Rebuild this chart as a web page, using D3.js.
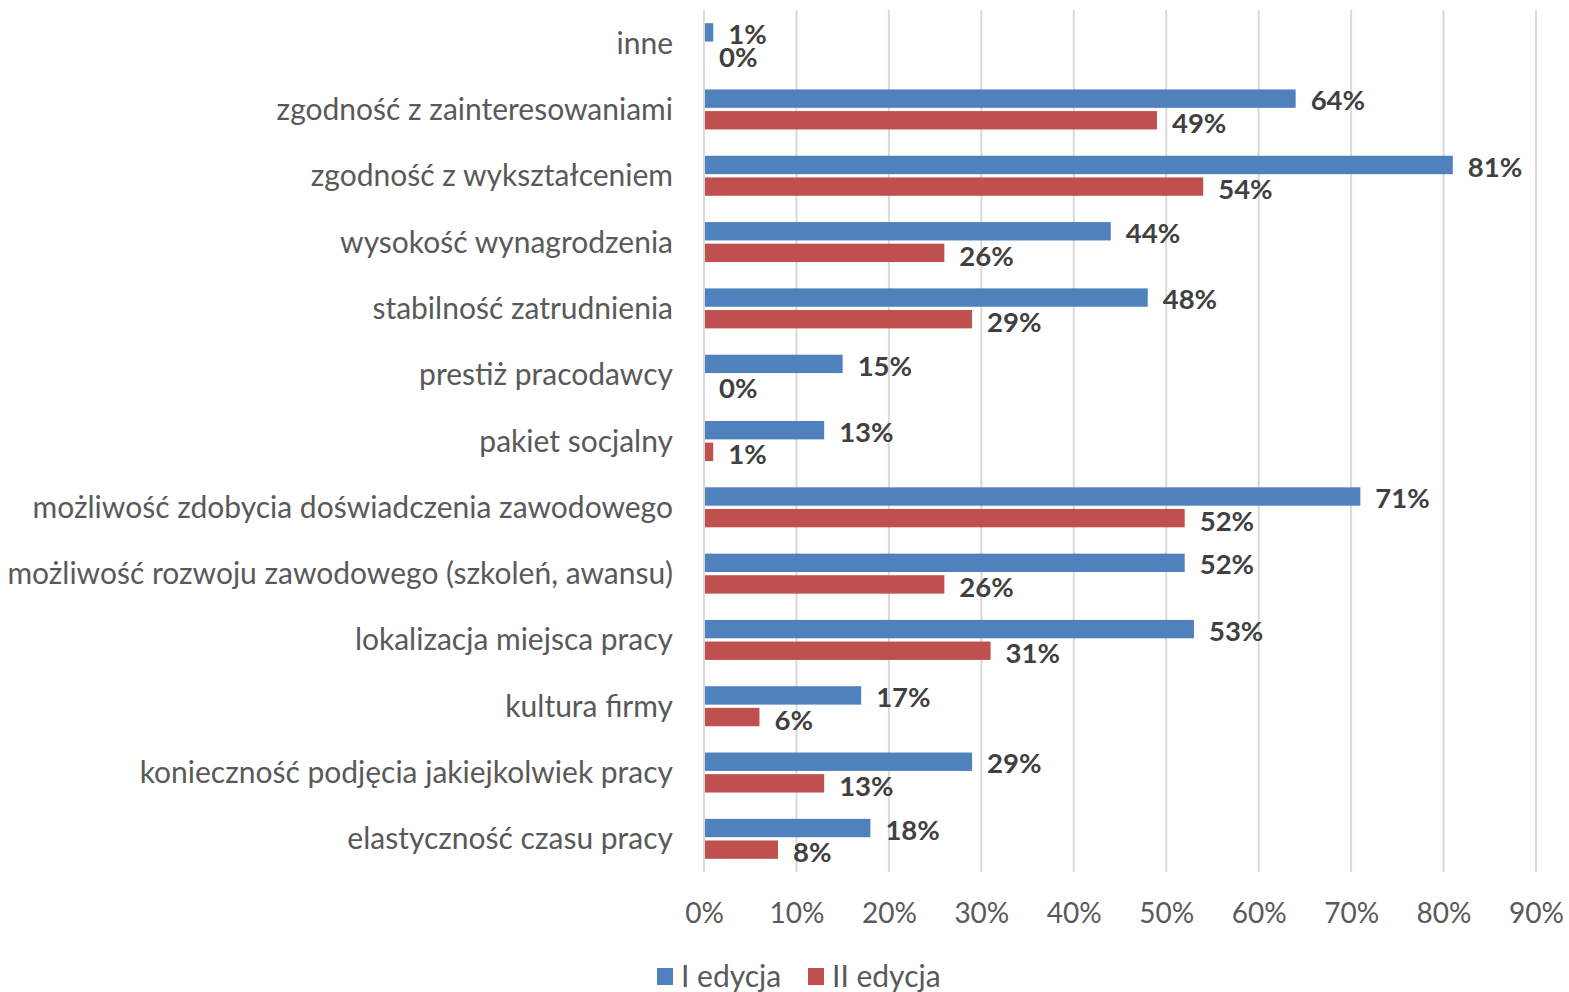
<!DOCTYPE html>
<html><head><meta charset="utf-8">
<script src="https://cdn.jsdelivr.net/npm/d3@7"></script>
<style>body{margin:0;background:#fff}svg{display:block}</style>
</head><body>
<svg id="c" width="1569" height="992"></svg>
<script>
const categories = ["inne","zgodność z zainteresowaniami","zgodność z wykształceniem","wysokość wynagrodzenia","stabilność zatrudnienia","prestiż pracodawcy","pakiet socjalny","możliwość zdobycia doświadczenia zawodowego","możliwość rozwoju zawodowego (szkoleń, awansu)","lokalizacja miejsca pracy","kultura firmy","konieczność podjęcia jakiejkolwiek pracy","elastyczność czasu pracy"];
const edycja1 = [1,64,81,44,48,15,13,71,52,53,17,29,18];
const edycja2 = [0,49,54,26,29,0,1,52,26,31,6,13,8];
const seriesNames = ["I edycja","II edycja"];
const colors = ["#4f81bd","#c0504d"];
const tickValues = [0,10,20,30,40,50,60,70,80,90];

const svg = d3.select("#c");
const font = "Lato, 'Open Sans', sans-serif";
const x = d3.scaleLinear().domain([0,90]).range([704,1536]);
const y = d3.scaleBand().domain(categories).range([10,872]);
const sub = d3.scaleBand().domain([0,1]).range([-20,20]).paddingInner(0.15);

// gridlines
svg.append("g").selectAll("line").data(tickValues).join("line")
  .attr("x1",d=>x(d)).attr("x2",d=>x(d)).attr("y1",10).attr("y2",872)
  .attr("stroke","#d9d9d9").attr("stroke-width",2);

// axis
const axis = d3.axisBottom(x).tickValues(tickValues).tickFormat(d=>d+"%").tickSize(0).tickPadding(0);
const ag = svg.append("g").attr("transform","translate(0,923)").call(axis);
ag.select(".domain").remove();
ag.selectAll("text").attr("font-family",font).attr("font-size",28).attr("fill","#595959").attr("dy","0");

// category labels
svg.append("g").selectAll("text").data(categories).join("text")
  .attr("x",673).attr("y",d=>y(d)+y.bandwidth()/2).attr("dy","0.35em")
  .attr("text-anchor","end").attr("font-family",font).attr("font-size",30).attr("fill","#595959")
  .text(d=>d);

const series = [edycja1, edycja2];
series.forEach((vals,si)=>{
  const g = svg.append("g");
  g.selectAll("rect").data(vals).join("rect")
    .attr("x",x(0)+1).attr("y",(d,i)=>y(categories[i])+y.bandwidth()/2+sub(si))
    .attr("width",d=>Math.max(0,x(d)-x(0)-1)).attr("height",sub.bandwidth())
    .attr("fill",colors[si]);
  g.selectAll("text").data(vals).join("text")
    .attr("x",d=>x(d)+15).attr("y",(d,i)=>y(categories[i])+y.bandwidth()/2+sub(si)+sub.bandwidth()/2+2 + (si===1?1:0))
    .attr("dy","0.35em").attr("font-family",font).attr("font-weight","bold").attr("font-size",27.5)
    .attr("fill","#404040").text(d=>d+"%");
});

// legend
const leg = svg.append("g");
const legX = [657,808];
seriesNames.forEach((n,i)=>{
  leg.append("rect").attr("x",legX[i]).attr("y",968).attr("width",16).attr("height",17).attr("fill",colors[i]);
  leg.append("text").attr("x",legX[i]+24).attr("y",976).attr("dy","0.35em")
    .attr("font-family",font).attr("font-size",30).attr("fill","#595959").text(n);
});
</script>
</body></html>
